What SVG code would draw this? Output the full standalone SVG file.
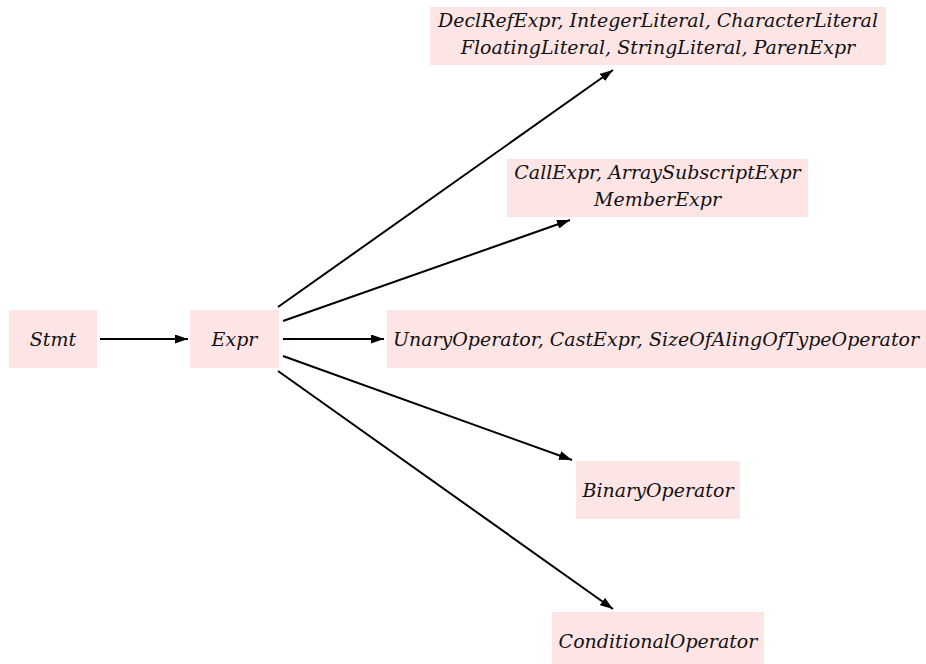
<svg xmlns="http://www.w3.org/2000/svg" width="926" height="664" viewBox="0 0 926 664">
  <style>
    .box { fill: #fee5e5; }
    .lbl { font-family: "DejaVu Serif", serif; font-style: italic; font-size: 19px; fill: #111; text-anchor: middle; }
    .edge { stroke: #000; stroke-width: 2; fill: none; marker-end: url(#arrow); }
  </style>
  <defs>
    <marker id="arrow" viewBox="0 0 13 9" refX="13" refY="4.5" markerWidth="13" markerHeight="9" markerUnits="userSpaceOnUse" orient="auto">
      <path d="M0,0 L13,4.5 L0,9 z" fill="#000"/>
    </marker>
  </defs>
  <rect width="926" height="664" fill="#fff"/>

  <g id="connectors">
    <line class="edge" x1="100" y1="339" x2="188" y2="339"/>
    <line class="edge" x1="278" y1="307" x2="613" y2="70"/>
    <line class="edge" x1="283" y1="321" x2="570" y2="220"/>
    <line class="edge" x1="283" y1="339" x2="384" y2="339"/>
    <line class="edge" x1="283" y1="356" x2="572" y2="460"/>
    <line class="edge" x1="278" y1="371" x2="613" y2="609"/>
  </g>

  <g id="stmt">
    <rect class="box" x="9" y="310" width="88" height="58"/>
    <text class="lbl" x="53" y="346">Stmt</text>
  </g>
  <g id="expr">
    <rect class="box" x="190" y="310" width="89" height="58"/>
    <text class="lbl" x="234.5" y="346">Expr</text>
  </g>
  <g id="literals">
    <rect class="box" x="430" y="7" width="456" height="58"/>
    <text class="lbl" x="658" y="27">DeclRefExpr, IntegerLiteral, CharacterLiteral</text>
    <text class="lbl" x="658" y="54">FloatingLiteral, StringLiteral, ParenExpr</text>
  </g>
  <g id="postfix">
    <rect class="box" x="507" y="159" width="301" height="58"/>
    <text class="lbl" x="657.5" y="179">CallExpr, ArraySubscriptExpr</text>
    <text class="lbl" x="657.5" y="206">MemberExpr</text>
  </g>
  <g id="unary">
    <rect class="box" x="387" y="310" width="545" height="58"/>
    <text class="lbl" x="656" y="346">UnaryOperator, CastExpr, SizeOfAlingOfTypeOperator</text>
  </g>
  <g id="binary">
    <rect class="box" x="576" y="461" width="164" height="58"/>
    <text class="lbl" x="658" y="497">BinaryOperator</text>
  </g>
  <g id="conditional">
    <rect class="box" x="552" y="612" width="212" height="58"/>
    <text class="lbl" x="658" y="648">ConditionalOperator</text>
  </g>
</svg>
